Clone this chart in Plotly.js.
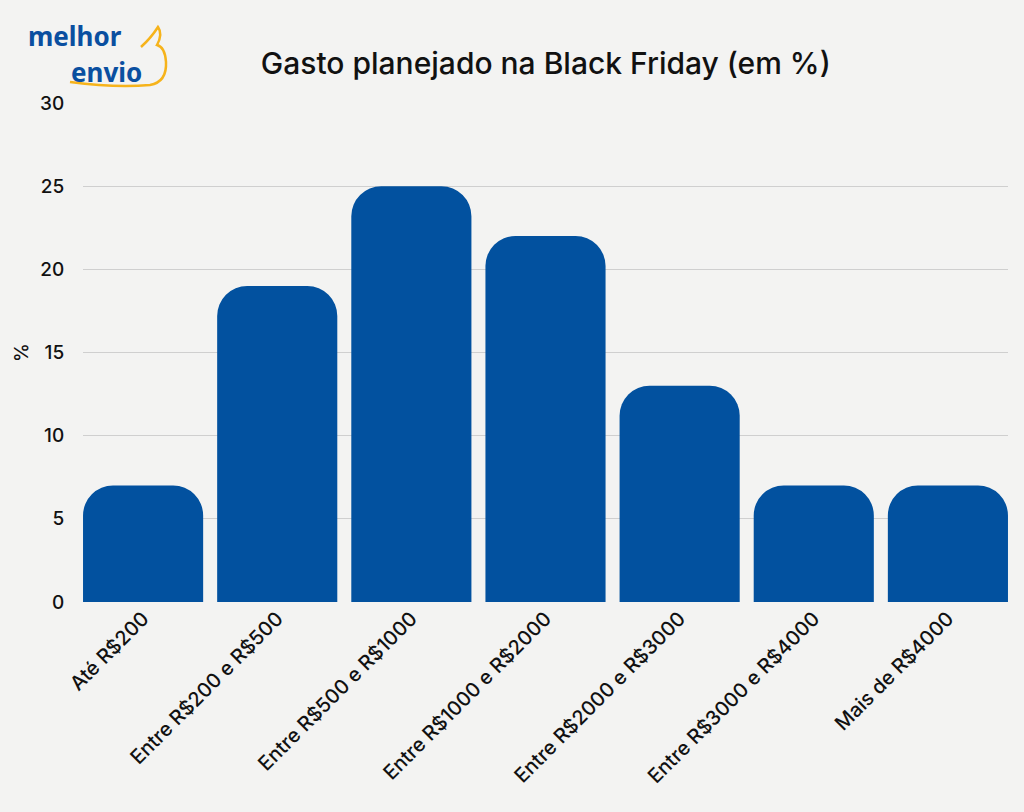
<!DOCTYPE html>
<html>
<head>
<meta charset="utf-8">
<script src="https://cdn.plot.ly/plotly-3.0.1.min.js"></script>
<style>
html,body{margin:0;padding:0;background:#f3f3f2;}
#chart{width:1024px;height:812px;}
</style>
</head>
<body>
<div id="chart"></div>
<script>
const categories = ["Até R$200","Entre R$200 e R$500","Entre R$500 e R$1000","Entre R$1000 e R$2000","Entre R$2000 e R$3000","Entre R$3000 e R$4000","Mais de R$4000"];
const values = [7, 19, 25, 22, 13, 7, 7];
const titleText = "Gasto planejado na Black Friday (em %)";
const yTitle = "%";
const yTicks = [0, 5, 10, 15, 20, 25, 30];

const FONT = "Inter, Open Sans, sans-serif";
const W = 1024, H = 812, L = 83, R = 16, T = 103, B = 210;
const pw = W - L - R, ph = H - T - B;
function px(x){ return (x - L) / pw; }
function py(y){ return (H - B - y) / ph; }

const trace = {
  type: "bar",
  x: categories,
  y: values,
  marker: {color: "#02519f", cornerradius: 30},
  hoverinfo: "x+y"
};

const layout = {
  width: W, height: H,
  margin: {l: L, r: R, t: T, b: B, pad: 0},
  paper_bgcolor: "#f3f3f2",
  plot_bgcolor: "rgba(0,0,0,0)",
  font: {family: FONT, color: "#111", size: 20, weight: 500},
  bargap: 0.1045,
  showlegend: false,
  title: {
    text: titleText,
    font: {family: FONT, size: 30, color: "#111", weight: 500},
    x: 0.533, xanchor: "center",
    y: 1 - 63/H, yanchor: "middle"
  },
  xaxis: {
    type: "category",
    range: [-0.448, 6.448],
    tickangle: -45,
    tickfont: {family: FONT, size: 20, color: "#111", weight: 500},
    showgrid: false, zeroline: false, showline: false,
    ticks: "", ticklen: 0
  },
  yaxis: {
    range: [0, 30],
    tickvals: yTicks,
    ticktext: yTicks.map(String),
    tickfont: {family: FONT, size: 19, color: "#111", weight: 500},
    showgrid: true, gridcolor: "#cfcfcf", gridwidth: 1,
    zeroline: false, showline: false,
    ticks: "outside", ticklen: 14, tickcolor: "rgba(0,0,0,0)",
    title: {text: yTitle, font: {family: FONT, size: 19, color: "#111", weight: 500}, standoff: 6}
  },
  annotations: [
    {text: "<b>melhor</b>", xref: "paper", yref: "paper", x: px(27), y: py(36),
     xanchor: "left", yanchor: "middle", showarrow: false, borderpad: 0,
     font: {family: "Noto Sans, sans-serif", size: 26, color: "#0a4fa0"}},
    {text: "<b>envio</b>", xref: "paper", yref: "paper", x: px(70), y: py(72),
     xanchor: "left", yanchor: "middle", showarrow: false, borderpad: 0,
     font: {family: "Noto Sans, sans-serif", size: 26, color: "#0a4fa0"}}
  ],
  shapes: [
    {type: "path", xref: "paper", yref: "paper",
     path: "M " + px(70) + "," + py(82) + " Q " + px(115) + "," + py(88) + " " + px(150) + "," + py(85) +
           " Q " + px(167) + "," + py(82) + " " + px(166) + "," + py(62) +
           " Q " + px(165) + "," + py(47) + " " + px(157) + "," + py(45) +
           " Q " + px(163) + "," + py(34) + " " + px(158) + "," + py(27) +
           " Q " + px(151) + "," + py(38) + " " + px(141) + "," + py(47),
     line: {color: "#f6b31b", width: 2.5}}
  ]
};

Plotly.newPlot("chart", [trace], layout, {displayModeBar: false, staticPlot: true});
</script>
</body>
</html>
